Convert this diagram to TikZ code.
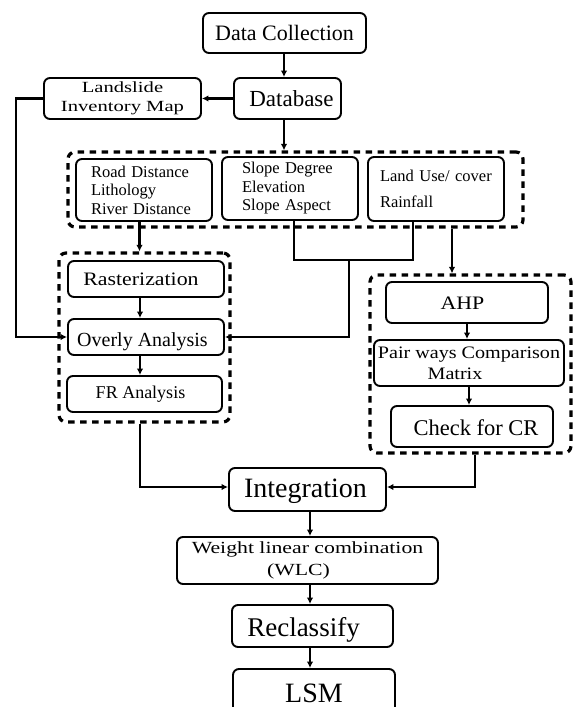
\documentclass[tikz,border=0pt]{standalone}
\usepackage{fontspec}
\setmainfont{Liberation Serif}
\newfontfamily\wideA{Liberation Serif}[FakeStretch=1.33]
\newfontfamily\wideB{Liberation Serif}[FakeStretch=1.15]
\newfontfamily\wideC{Liberation Serif}[FakeStretch=1.28]
\usetikzlibrary{arrows.meta}
\begin{document}
\begin{tikzpicture}[x=1pt,y=-1pt,
  box/.style={draw, line width=1.9pt, rounded corners=6pt, inner sep=0pt, align=center},
  lbox/.style={draw, line width=1.9pt, rounded corners=6pt, inner ysep=0pt, align=left,
     minimum width=136pt, font=\fontsize{16.5}{18.5}\selectfont},
  grp/.style={draw, line width=3.2pt, dash pattern=on 6.5pt off 5.5pt, rounded corners=7pt, inner sep=0pt},
  link/.style={line width=2.8pt},
  arr/.style={link, -{Latex[length=6.5pt,width=6.5pt]}}
]
\clip (0,0) rectangle (573,707);
% groups
\node[grp, minimum width=455pt, minimum height=75pt] (g1) at (295.5,189.5) {};
\node[grp, minimum width=171pt, minimum height=169pt] (g2) at (144.5,337.5) {};
\node[grp, minimum width=201pt, minimum height=178pt] (g3) at (470.5,364) {};
% boxes
\node[box, minimum width=163pt, minimum height=40pt, font=\fontsize{22}{26}\selectfont, text height=14pt, text depth=0pt] (dc) at (284.5,33) {Data Collection};
\node[box, minimum width=107pt, minimum height=41pt, font=\fontsize{23}{27}\selectfont, text height=15pt, text depth=0pt] (db) at (287.5,98.5) {\hspace*{8pt}Database};
\node[box, minimum width=157pt, minimum height=41pt, font=\wideA\fontsize{15.5}{19}\selectfont] (lim) at (122.5,98.5) {Landslide\\Inventory Map};
\node[lbox, minimum height=62pt, inner xsep=15pt, text width=106pt] (b1) at (144,190) {Road Distance\\Lithology\\River Distance};
\node[lbox, minimum height=63pt, inner xsep=20pt, text width=96pt] (b2) at (290,188.5) {Slope Degree\\Elevation\\Slope Aspect};
\node[lbox, minimum height=64pt, inner xsep=12pt, text width=112pt] (b3) at (436,189) {Land Use/ cover\\[7pt]Rainfall};
\node[box, minimum width=156pt, minimum height=36pt, font=\wideB\fontsize{19}{22}\selectfont, text height=12pt, text depth=0pt] (ras) at (146,279) {Rasterization\hspace*{10pt}};
\node[box, minimum width=156pt, minimum height=36pt, font=\fontsize{20}{24}\selectfont, text height=18pt, text depth=0pt] (ov) at (146,337) {Overly Analysis\hspace*{7pt}};
\node[box, minimum width=155pt, minimum height=36pt, font=\fontsize{18}{22}\selectfont, text height=8pt, text depth=0pt] (fr) at (144.5,394) {FR Analysis\hspace*{8pt}};
\node[box, minimum width=162pt, minimum height=41pt, font=\wideB\fontsize{19}{22}\selectfont, text height=13pt, text depth=0pt] (ahp) at (467,302.5) {AHP\hspace*{9pt}};
\node[box, minimum width=190pt, minimum height=46pt, font=\wideB\fontsize{17.5}{21}\selectfont] (pair) at (469,363) {Pair ways Comparison\\Matrix\hspace*{28pt}};
\node[box, minimum width=162pt, minimum height=41pt, font=\fontsize{22.5}{26}\selectfont, text height=17pt, text depth=0pt] (cr) at (472,426.5) {\hspace*{8pt}Check for CR};
\node[box, minimum width=157pt, minimum height=43pt, font=\fontsize{28}{32}\selectfont, text height=15pt, text depth=0pt] (int) at (307.5,489.5) {Integration\hspace*{4pt}};
\node[box, minimum width=261pt, minimum height=47pt, font=\wideC\fontsize{17}{22}\selectfont] (wlc) at (307.5,560.5) {Weight linear combination\\(WLC)\hspace*{18pt}};
\node[box, minimum width=161pt, minimum height=42pt, font=\fontsize{27}{31}\selectfont, text height=20pt, text depth=0pt] (rec) at (312.5,626) {Reclassify\hspace*{18pt}};
\node[box, minimum width=162pt, minimum height=46pt, font=\fontsize{28}{32}\selectfont, text height=20pt, text depth=0pt] (lsm) at (314,692) {LSM};
% helper coordinates
\coordinate (cL) at (140,0);
\coordinate (cR) at (475,0);
\coordinate (cM) at (310,0);
\coordinate (c3) at (452,0);
\coordinate (cT) at (284,0);
\coordinate (jn) at (349,260);
% connectors
\draw[arr] (dc.south -| cT) -- (db.north -| cT);
\draw[arr] (db.west) -- (lim.east);
\draw[arr] (lim.west) -- ++(-27,0) |- (ov.west);
\draw[arr] (db.south -| cT) -- (g1.north -| cT);
\draw[arr] ([xshift=-4.5pt]b1.south) -- ([xshift=-4.5pt]b1.south |- g2.north);
\draw[link] ([xshift=4pt]b2.south) |- (jn) -| ([xshift=-23pt]b3.south);
\draw[arr] (jn) |- (ov.east);
\draw[arr] (g1.south -| c3) -- (g3.north -| c3);
\draw[arr] (ras.south -| cL) -- (ov.north -| cL);
\draw[arr] (ov.south -| cL) -- (fr.north -| cL);
\draw[arr] (ahp.south) -- (ahp.south |- pair.north);
\draw[arr] (pair.south) -- (pair.south |- cr.north);
\draw[arr] (g2.south -| cL) |- ([yshift=2.5pt]int.west);
\draw[arr] (g3.south -| cR) |- ([yshift=2.5pt]int.east);
\draw[arr] (int.south -| cM) -- (wlc.north -| cM);
\draw[arr] (wlc.south -| cM) -- (rec.north -| cM);
\draw[arr] (rec.south -| cM) -- (lsm.north -| cM);
\end{tikzpicture}
\end{document}
